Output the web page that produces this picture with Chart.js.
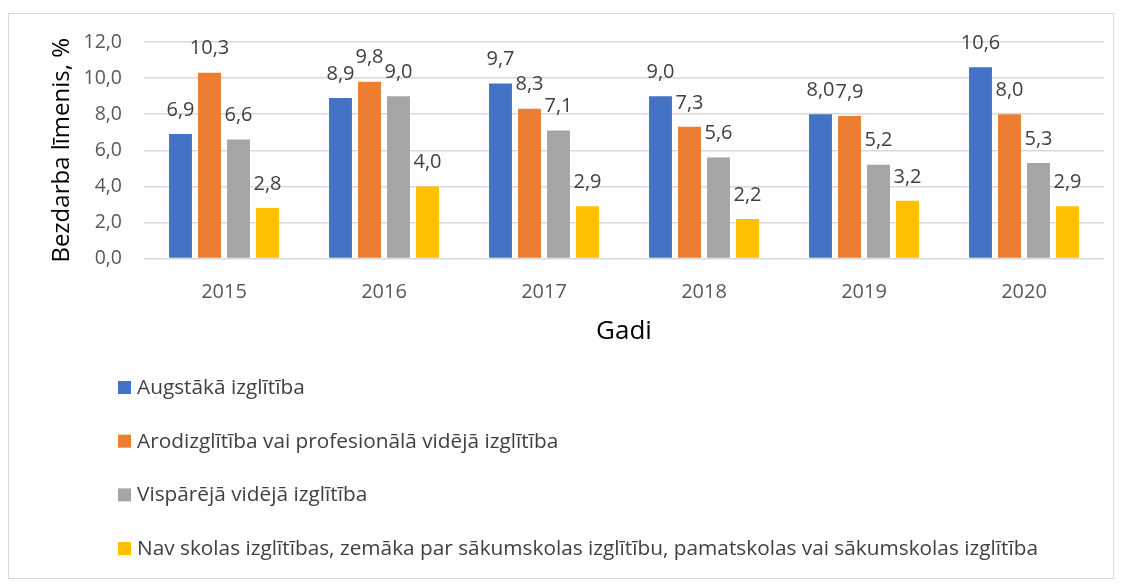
<!DOCTYPE html>
<html>
<head>
<meta charset="utf-8">
<script src="https://cdn.jsdelivr.net/npm/chart.js@4"></script>
<style>
  body { margin: 0; background: #fff; }
  #wrap { position: relative; width: 1123px; height: 584px; }
  #frame { position: absolute; left: 8px; top: 13px; width: 1106px; height: 566px; border: 1px solid #d9d9d9; box-sizing: border-box; }
  canvas { position: absolute; left: 0; top: 0; }
</style>
</head>
<body>
<div id="wrap">
  <div id="frame"></div>
  <canvas id="chartBezdarbs" width="1123" height="584"></canvas>
</div>
<script>
const gadi = ['2015', '2016', '2017', '2018', '2019', '2020'];
const augstaka = [6.9, 8.9, 9.7, 9.0, 8.0, 10.6];
const arodizglitiba = [10.3, 9.8, 8.3, 7.3, 7.9, 8.0];
const visparejaVideja = [6.6, 9.0, 7.1, 5.6, 5.2, 5.3];
const navSkolas = [2.8, 4.0, 2.9, 2.2, 3.2, 2.9];
const yTicks = [0, 2, 4, 6, 8, 10, 12];

const nosaukumi = [
  'Augstākā izglītība',
  'Arodizglītība vai profesionālā vidējā izglītība',
  'Vispārējā vidējā izglītība',
  'Nav skolas izglītības, zemāka par sākumskolas izglītību, pamatskolas vai sākumskolas izglītība'
];
const krasas = ['#4472C4', '#ED7D31', '#A5A5A5', '#FFC000'];

const fonts = '"Open Sans", sans-serif';
const komats = v => v.toFixed(1).replace('.', ',');

// vērtības virs stabiņiem
const vertibuPlugin = {
  id: 'vertibas',
  afterDatasetsDraw(chart) {
    const ctx = chart.ctx;
    ctx.save();
    ctx.font = '20px ' + fonts;
    ctx.fillStyle = '#404040';
    ctx.textAlign = 'center';
    ctx.textBaseline = 'middle';
    chart.data.datasets.forEach((ds, i) => {
      chart.getDatasetMeta(i).data.forEach((bar, j) => {
        ctx.fillText(komats(ds.data[j]), bar.x, bar.y - 24);
      });
    });
    ctx.restore();
  }
};

// leģenda vertikāli zem grafika
const legendaPlugin = {
  id: 'legenda',
  afterDraw(chart) {
    const ctx = chart.ctx;
    ctx.save();
    ctx.font = '20.8px ' + fonts;
    ctx.textBaseline = 'middle';
    chart.data.datasets.forEach((ds, i) => {
      const y = 388 + i * 53.7;
      ctx.fillStyle = ds.backgroundColor;
      ctx.fillRect(118, y - 7, 13, 13);
      ctx.fillStyle = '#404040';
      ctx.fillText(ds.label, 137, y);
    });
    ctx.restore();
  }
};

const serija = [augstaka, arodizglitiba, visparejaVideja, navSkolas];

new Chart(document.getElementById('chartBezdarbs'), {
  type: 'bar',
  data: {
    labels: gadi,
    datasets: serija.map((d, i) => ({
      label: nosaukumi[i],
      data: d,
      backgroundColor: krasas[i],
      categoryPercentage: 0.725,
      barPercentage: 0.79
    }))
  },
  options: {
    responsive: false,
    animation: false,
    layout: { padding: { left: 48, top: 42, right: 19, bottom: 247 } },
    plugins: {
      legend: { display: false },
      tooltip: { enabled: false }
    },
    scales: {
      x: {
        grid: { display: false, drawTicks: false },
        border: { display: false },
        ticks: { font: { family: fonts, size: 20 }, color: '#595959', padding: 22 },
        title: { display: true, text: 'Gadi', font: { family: fonts, size: 26, lineHeight: 0.4 }, color: '#000', padding: { top: 0, bottom: 0 } }
      },
      y: {
        min: 0,
        max: 12,
        afterBuildTicks(scale) { scale.ticks = yTicks.map(v => ({ value: v })); },
        afterFit(scale) { scale.width = 96; },
        grid: { color: '#d9d9d9', lineWidth: 1.5, drawTicks: false },
        border: { display: false },
        ticks: { font: { family: fonts, size: 19.5 }, color: '#595959', padding: 22, callback: v => komats(v) },
        title: { display: true, text: 'Bezdarba līmenis, %', font: { family: fonts, size: 24 }, color: '#000', padding: 0 }
      }
    }
  },
  plugins: [vertibuPlugin, legendaPlugin]
});
</script>
</body>
</html>
